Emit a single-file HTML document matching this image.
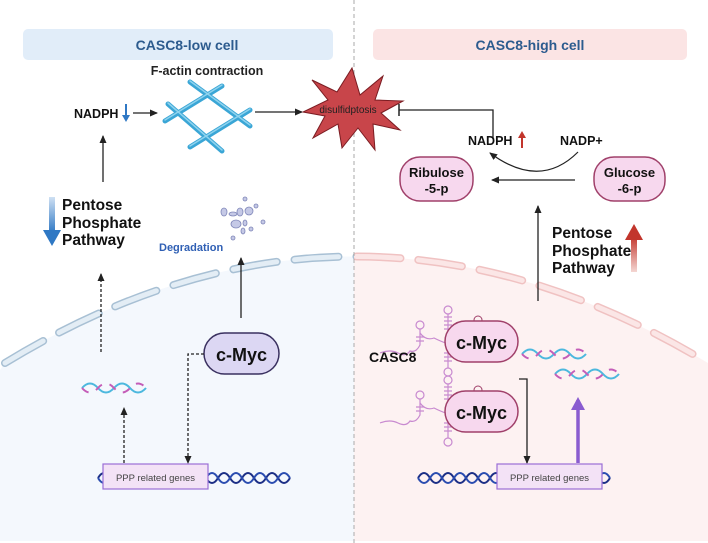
<!DOCTYPE html>
<html><head><meta charset="utf-8"><style>
html,body{margin:0;padding:0;background:#fff;}
svg{display:block;font-family:"Liberation Sans",sans-serif;}
</style></head><body>
<svg width="708" height="543" viewBox="0 0 708 543" xmlns="http://www.w3.org/2000/svg">
<defs>
<marker id="ah" markerWidth="8" markerHeight="8" refX="7" refY="4" orient="auto" markerUnits="userSpaceOnUse"><path d="M0,0.5 L8,4 L0,7.5z" fill="#222"/></marker>
<marker id="ahp" markerWidth="14" markerHeight="14" refX="10" refY="7" orient="auto" markerUnits="userSpaceOnUse"><path d="M0,0 L13,7 L0,14z" fill="#8a5cd0"/></marker>
<linearGradient id="gb" x1="0" y1="0" x2="0" y2="1"><stop offset="0" stop-color="#cfe0f3"/><stop offset="1" stop-color="#2f78c4"/></linearGradient>
<linearGradient id="gr" x1="0" y1="1" x2="0" y2="0"><stop offset="0" stop-color="#f4d6d2"/><stop offset="1" stop-color="#c2352c"/></linearGradient>
<clipPath id="cl"><rect x="0" y="0" width="354" height="543"/></clipPath>
<clipPath id="cr"><rect x="354" y="0" width="354" height="543"/></clipPath>
<g id="wave"><path d="M0,0 q8,-9 16,0 t16,0 t16,0 t16,0" fill="none" stroke="#4cb8de" stroke-width="2"/><path d="M0,0 q8,9 16,0 t16,0 t16,0 t16,0" fill="none" stroke="#c45db8" stroke-width="2" stroke-dasharray="8 8"/></g>
<g id="rna" fill="none" stroke="#c88ad0" stroke-width="1.2">
<path d="M0,18 q10,-4 18,0 t12,-2 q6,2 10,-6 v-14 M40,-2 v-4"/>
<circle cx="40" cy="-10" r="4"/>
<path d="M40,-2 q6,8 14,5 q6,3 14,6 q8,-2 14,4 q10,-2 20,-4"/>
<path d="M68,9 v-30"/><circle cx="68" cy="-25" r="4"/>
<path d="M68,9 v24"/><circle cx="68" cy="37" r="4"/>
<path d="M64,-18 h8 M64,-14 h8 M64,-10 h8 M64,-6 h8 M64,18 h8 M64,22 h8 M64,26 h8 M36,2 h8 M36,6 h8"/>
</g>
<g id="dna" fill="none" stroke="#1c2f86" stroke-width="2">
<path d="M0,0 q6,-10 12,0 t12,0 t12,0 t12,0 t12,0 t12,0 t12,0 t12,0 t12,0 t12,0 t12,0 t12,0 t12,0 t12,0 t12,0 t12,0"/>
<path d="M0,0 q6,10 12,0 t12,0 t12,0 t12,0 t12,0 t12,0 t12,0 t12,0 t12,0 t12,0 t12,0 t12,0 t12,0 t12,0 t12,0 t12,0" stroke="#2b4db0"/>
</g>
</defs>

<path d="M0,370 L5,363 Q354,150 708,363 L708,541 L0,541z" fill="#f4f8fd" clip-path="url(#cl)"/>
<path d="M0,370 L5,363 Q354,150 708,363 L708,541 L0,541z" fill="#fdf2f2" clip-path="url(#cr)"/>
<g clip-path="url(#cl)">
<path d="M5,363 Q354,150 708,363" fill="none" stroke="#a8c0d4" stroke-width="8" stroke-linecap="round" stroke-dasharray="44 18"/>
<path d="M5,363 Q354,150 708,363" fill="none" stroke="#e3edf5" stroke-width="5" stroke-linecap="round" stroke-dasharray="44 18"/>
</g>
<g clip-path="url(#cr)">
<path d="M5,363 Q354,150 708,363" fill="none" stroke="#f0c2c2" stroke-width="8" stroke-linecap="round" stroke-dasharray="44 18"/>
<path d="M5,363 Q354,150 708,363" fill="none" stroke="#fbe6e6" stroke-width="5" stroke-linecap="round" stroke-dasharray="44 18"/>
</g>
<line x1="354" y1="0" x2="354" y2="543" stroke="#aaa" stroke-width="1" stroke-dasharray="4 3"/>

<rect x="23" y="29" width="310" height="31" rx="5" fill="#e1edf9"/>
<text x="187" y="50" text-anchor="middle" font-size="14" font-weight="bold" fill="#2c5b8e">CASC8-low cell</text>
<rect x="373" y="29" width="314" height="31" rx="5" fill="#fbe4e4"/>
<text x="530" y="50" text-anchor="middle" font-size="14" font-weight="bold" fill="#2c5b8e">CASC8-high cell</text>

<text x="207" y="75" text-anchor="middle" font-size="12.5" font-weight="bold" fill="#222">F-actin contraction</text>
<text x="74" y="118" font-size="12.5" font-weight="bold" fill="#111">NADPH</text>
<line x1="126" y1="104" x2="126" y2="116" stroke="#2f78c4" stroke-width="2"/><path d="M122,115 L130,115 L126,122z" fill="#2f78c4"/>
<line x1="133" y1="113" x2="157" y2="113" stroke="#222" stroke-width="1.3" marker-end="url(#ah)"/>
<g stroke="#3aa6d6" stroke-width="5" stroke-linecap="round">
<line x1="165" y1="121" x2="222" y2="86"/><line x1="190" y1="82" x2="250" y2="126"/>
<line x1="168" y1="104" x2="222" y2="151"/><line x1="190" y1="147" x2="250" y2="110"/>
</g>
<g stroke="#8fd3ee" stroke-width="1.5" stroke-linecap="round">
<line x1="165" y1="120" x2="222" y2="85"/><line x1="190" y1="81" x2="250" y2="125"/>
<line x1="168" y1="103" x2="222" y2="150"/><line x1="190" y1="146" x2="250" y2="109"/>
</g>
<line x1="255" y1="112" x2="302" y2="112" stroke="#222" stroke-width="1.3" marker-end="url(#ah)"/>
<polygon points="352,68 360,95 383,76 375,100 403,101 381,113 400,130 373,124 375,150 358,128 342,148 338,124 313,138 325,116 303,112 328,100 312,80 337,92" fill="#c8454a" stroke="#7a1c22" stroke-width="1"/>
<text x="348" y="113" text-anchor="middle" font-size="10" fill="#222">disulfidptosis</text>

<line x1="103" y1="182" x2="103" y2="136" stroke="#222" stroke-width="1.3" marker-end="url(#ah)"/>
<rect x="49" y="197" width="6" height="36" fill="url(#gb)"/><path d="M43,230 L61,230 L52,246z" fill="#2f78c4"/>
<g font-size="15.5" font-weight="bold" fill="#111"><text x="62" y="210">Pentose</text><text x="62" y="228">Phosphate</text><text x="62" y="245">Pathway</text></g>

<g fill="#c5c9e6" stroke="#7f86b8" stroke-width="0.8">
<ellipse cx="224" cy="212" rx="3" ry="4"/><ellipse cx="233" cy="214" rx="4" ry="2"/><ellipse cx="240" cy="212" rx="3" ry="4"/><ellipse cx="249" cy="211" rx="4" ry="4"/><ellipse cx="236" cy="224" rx="5" ry="4"/>
<ellipse cx="245" cy="223" rx="2" ry="3"/><ellipse cx="243" cy="231" rx="2" ry="3"/><ellipse cx="251" cy="229" rx="2" ry="2"/><ellipse cx="245" cy="199" rx="2" ry="2"/><ellipse cx="263" cy="222" rx="2" ry="2"/><ellipse cx="233" cy="238" rx="2" ry="2"/><ellipse cx="256" cy="206" rx="2" ry="2"/>
</g>
<text x="159" y="251" font-size="11" font-weight="bold" fill="#2f5fb4">Degradation</text>
<line x1="241" y1="318" x2="241" y2="258" stroke="#222" stroke-width="1.3" marker-end="url(#ah)"/>

<rect x="204" y="333" width="75" height="41" rx="20.5" fill="#dcd7f3" stroke="#3a3160" stroke-width="1.5"/>
<text x="241.5" y="361" text-anchor="middle" font-size="18" font-weight="bold" fill="#111">c-Myc</text>
<path d="M204,354 H188 V463" fill="none" stroke="#222" stroke-width="1.3" stroke-dasharray="3 2" marker-end="url(#ah)"/>
<line x1="101" y1="352" x2="101" y2="274" stroke="#222" stroke-width="1.3" stroke-dasharray="3 2" marker-end="url(#ah)"/>
<use href="#wave" x="82" y="388"/>
<line x1="124" y1="463" x2="124" y2="408" stroke="#222" stroke-width="1.3" stroke-dasharray="3 2" marker-end="url(#ah)"/>
<use href="#dna" x="98" y="478"/>
<rect x="103" y="464" width="105" height="25" fill="#f3e2f6" stroke="#9a6fd6" stroke-width="1.2"/>
<text x="155.5" y="481" text-anchor="middle" font-size="9.5" fill="#444">PPP related genes</text>

<path d="M493,138 V110 H399" fill="none" stroke="#222" stroke-width="1.3"/>
<line x1="399" y1="104" x2="399" y2="116" stroke="#222" stroke-width="1.5"/>
<text x="468" y="145" font-size="12.5" font-weight="bold" fill="#111">NADPH</text>
<line x1="522" y1="148" x2="522" y2="136" stroke="#c2352c" stroke-width="2"/><path d="M518,138 L526,138 L522,131z" fill="#c2352c"/>
<text x="560" y="145" font-size="12.5" font-weight="bold" fill="#111">NADP+</text>
<rect x="400" y="157" width="73" height="44" rx="20" fill="#f7d8ee" stroke="#a0406a" stroke-width="1.5"/>
<text x="436.5" y="177" text-anchor="middle" font-size="13" font-weight="bold" fill="#111">Ribulose</text>
<text x="436.5" y="193" text-anchor="middle" font-size="13" font-weight="bold" fill="#111">-5-p</text>
<rect x="594" y="157" width="71" height="44" rx="20" fill="#f7d8ee" stroke="#a0406a" stroke-width="1.5"/>
<text x="629.5" y="177" text-anchor="middle" font-size="13" font-weight="bold" fill="#111">Glucose</text>
<text x="629.5" y="193" text-anchor="middle" font-size="13" font-weight="bold" fill="#111">-6-p</text>
<line x1="575" y1="180" x2="492" y2="180" stroke="#222" stroke-width="1.3" marker-end="url(#ah)"/>
<path d="M578,152 Q540,190 490,153" fill="none" stroke="#222" stroke-width="1.2" marker-end="url(#ah)"/>
<line x1="538" y1="301" x2="538" y2="206" stroke="#222" stroke-width="1.3" marker-end="url(#ah)"/>
<g font-size="15.5" font-weight="bold" fill="#111"><text x="552" y="238">Pentose</text><text x="552" y="256">Phosphate</text><text x="552" y="273">Pathway</text></g>
<rect x="631" y="236" width="6" height="36" fill="url(#gr)"/><path d="M625,240 L643,240 L634,224z" fill="#c2352c"/>

<use href="#rna" x="380" y="335"/>
<use href="#rna" x="380" y="405"/>
<text x="369" y="362" font-size="14" font-weight="bold" fill="#111">CASC8</text>
<circle cx="478" cy="320" r="4" fill="none" stroke="#a0406a"/>
<circle cx="478" cy="390" r="4" fill="none" stroke="#a0406a"/>
<rect x="445" y="321" width="73" height="41" rx="20.5" fill="#f7d8ee" stroke="#a0406a" stroke-width="1.5"/>
<text x="481.5" y="349" text-anchor="middle" font-size="18" font-weight="bold" fill="#111">c-Myc</text>
<rect x="445" y="391" width="73" height="41" rx="20.5" fill="#f7d8ee" stroke="#a0406a" stroke-width="1.5"/>
<text x="481.5" y="419" text-anchor="middle" font-size="18" font-weight="bold" fill="#111">c-Myc</text>
<use href="#wave" x="522" y="354"/>
<use href="#wave" x="555" y="374"/>
<path d="M519,379 H527 V463" fill="none" stroke="#222" stroke-width="1.3" marker-end="url(#ah)"/>
<line x1="578" y1="463" x2="578" y2="400" stroke="#8a5cd0" stroke-width="3.5" marker-end="url(#ahp)"/>
<use href="#dna" x="418" y="478"/>
<rect x="497" y="464" width="105" height="25" fill="#f3e2f6" stroke="#9a6fd6" stroke-width="1.2"/>
<text x="549.5" y="481" text-anchor="middle" font-size="9.5" fill="#444">PPP related genes</text>
</svg>
</body></html>
